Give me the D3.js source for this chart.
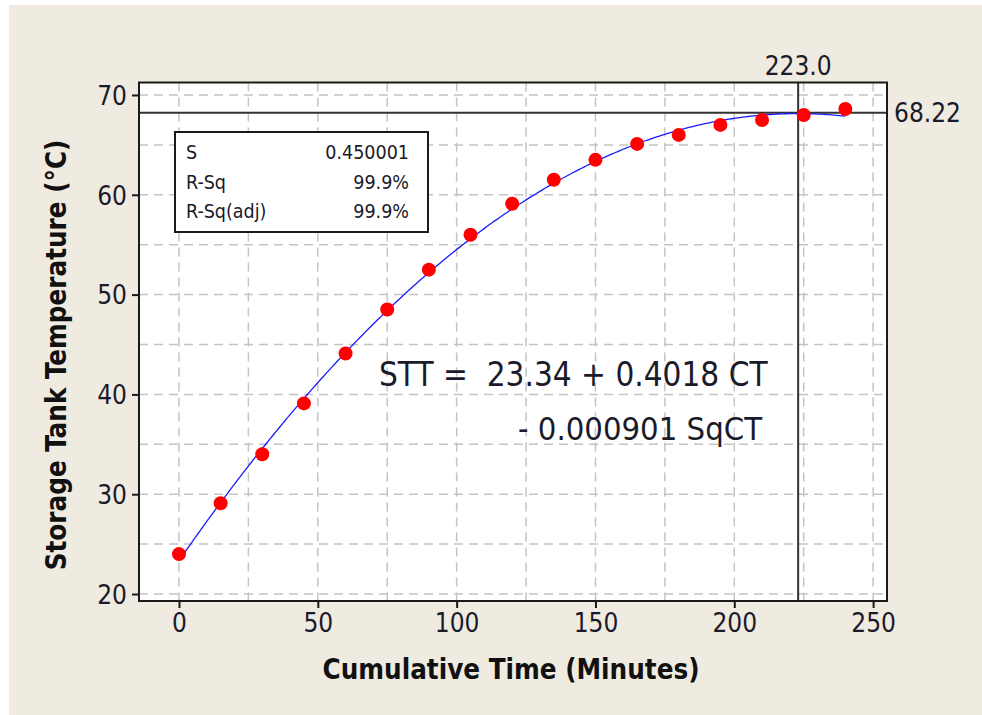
<!DOCTYPE html>
<html>
<head>
<meta charset="utf-8">
<script src="https://cdn.jsdelivr.net/npm/d3@7"></script>
<style>
  html, body { margin: 0; padding: 0; background: #ffffff; }
  svg { display: block; }
  .f { font-family: "DejaVu Sans Condensed", "Liberation Sans", Arial, sans-serif; }
</style>
</head>
<body>
<svg id="chart" width="982" height="715"></svg>
<script>
// ---- data ----
const cumulativeTime = [0, 15, 30, 45, 60, 75, 90, 105, 120, 135, 150, 165, 180, 195, 210, 225, 240];
const tankTemperature = [24.0, 29.1, 34.0, 39.1, 44.1, 48.5, 52.5, 56.0, 59.1, 61.5, 63.5, 65.1, 66.0, 67.0, 67.5, 68.0, 68.6];
const fitCoefficients = [23.34, 0.4018, -0.000901];   // STT = b0 + b1*CT + b2*CT^2
const xTicks = [0, 50, 100, 150, 200, 250];
const yTicks = [20, 30, 40, 50, 60, 70];
const xGrid = [0, 25, 50, 75, 100, 125, 150, 175, 200, 225, 250];
const yGrid = [20, 25, 30, 35, 40, 45, 50, 55, 60, 65, 70];
const refX = 223.0;
const refY = 68.22;
const statLabels = ["S", "R-Sq", "R-Sq(adj)"];
const statValues = ["0.450001", "99.9%", "99.9%"];
const equationLines = ["STT =  23.34 + 0.4018 CT", "- 0.000901 SqCT"];
const xTitle = "Cumulative Time (Minutes)";
const yTitle = "Storage Tank Temperature (\u00B0C)";

// ---- layout ----
const W = 982, H = 715;
const margin = { left: 139, top: 82.5, right: 95, bottom: 114 };
const svg = d3.select("#chart");

svg.append("rect").attr("x", 9).attr("y", 5).attr("width", W - 9).attr("height", H - 5).attr("fill", "#efebe1");

const x = d3.scaleLinear().domain([-14.4, 255]).range([margin.left, W - margin.right]);
const y = d3.scaleLinear().domain([19.3, 71.25]).range([H - margin.bottom, margin.top]);

const pw = W - margin.right - margin.left, ph = H - margin.bottom - margin.top;
svg.append("rect").attr("x", margin.left).attr("y", margin.top).attr("width", pw).attr("height", ph).attr("fill", "#ffffff");

// grid
const grid = svg.append("g").attr("stroke", "#c4c4c4").attr("stroke-width", 1.5).attr("stroke-dasharray", "9,6");
grid.selectAll(".gx").data(xGrid).join("line")
  .attr("x1", d => x(d)).attr("x2", d => x(d)).attr("y1", margin.top).attr("y2", H - margin.bottom);
grid.selectAll(".gy").data(yGrid).join("line")
  .attr("y1", d => y(d)).attr("y2", d => y(d)).attr("x1", margin.left).attr("x2", W - margin.right);

// reference lines
svg.append("line").attr("x1", x(refX)).attr("x2", x(refX)).attr("y1", margin.top).attr("y2", H - margin.bottom)
  .attr("stroke", "#333333").attr("stroke-width", 2);
svg.append("line").attr("y1", y(refY)).attr("y2", y(refY)).attr("x1", margin.left).attr("x2", W - margin.right)
  .attr("stroke", "#333333").attr("stroke-width", 2);

// fitted curve
const fitX = d3.range(0, 240.5, 1);
const fit = c => fitCoefficients[0] + fitCoefficients[1] * c + fitCoefficients[2] * c * c;
svg.append("path").datum(fitX)
  .attr("d", d3.line().x(d => x(d)).y(d => y(fit(d))))
  .attr("fill", "none").attr("stroke", "#1a1aff").attr("stroke-width", 1.3);

// points
svg.append("g").selectAll("circle").data(cumulativeTime).join("circle")
  .attr("cx", d => x(d)).attr("cy", (d, i) => y(tankTemperature[i])).attr("r", 7)
  .attr("fill", "#ff0000");

// frame
svg.append("rect").attr("x", margin.left).attr("y", margin.top).attr("width", pw).attr("height", ph)
  .attr("fill", "none").attr("stroke", "#1a1a1a").attr("stroke-width", 2);

// axes
const xAxis = svg.append("g").attr("transform", `translate(0,${H - margin.bottom})`)
  .call(d3.axisBottom(x).tickValues(xTicks).tickSize(7).tickPadding(6));
const yAxis = svg.append("g").attr("transform", `translate(${margin.left},0)`)
  .call(d3.axisLeft(y).tickValues(yTicks).tickSize(7).tickPadding(5));
[xAxis, yAxis].forEach(a => {
  a.select(".domain").remove();
  a.selectAll("line").attr("stroke", "#1a1a1a").attr("stroke-width", 2);
  a.selectAll("text").attr("class", "f").attr("font-size", 26).attr("fill", "#1a1a2a");
});
yAxis.selectAll("text").attr("dy", "0.36em");

// reference labels
svg.append("text").attr("class", "f").attr("x", x(refX)).attr("y", margin.top - 8)
  .attr("text-anchor", "middle").attr("font-size", 26).attr("fill", "#1a1a2a").text(refX.toFixed(1));
svg.append("text").attr("class", "f").attr("x", W - margin.right + 7).attr("y", y(refY))
  .attr("dy", "0.36em").attr("font-size", 26).attr("fill", "#1a1a2a").text(refY.toFixed(2));

// stats box
const box = svg.append("g");
box.append("rect").attr("x", 175).attr("y", 132).attr("width", 253).attr("height", 100)
  .attr("fill", "#ffffff").attr("stroke", "#1a1a1a").attr("stroke-width", 2);
statLabels.forEach((s, i) => {
  box.append("text").attr("class", "f").attr("x", 186).attr("y", 159 + i * 29.5)
    .attr("font-size", 19.5).attr("fill", "#1a1a2a").text(s);
  box.append("text").attr("class", "f").attr("x", 409).attr("y", 159 + i * 29.5)
    .attr("text-anchor", "end").attr("font-size", 19.5).attr("fill", "#1a1a2a").text(statValues[i]);
});

// equation
svg.append("text").attr("class", "f").attr("x", 379).attr("y", 386).attr("font-size", 33)
  .attr("fill", "#1a1a2a").attr("xml:space", "preserve").style("white-space", "pre").text(equationLines[0]);
svg.append("text").attr("class", "f").attr("x", 518).attr("y", 440).attr("font-size", 32.5)
  .attr("fill", "#1a1a2a").text(equationLines[1]);

// titles
svg.append("text").attr("class", "f").attr("x", 511).attr("y", 679).attr("text-anchor", "middle")
  .attr("font-size", 27.5).attr("font-weight", "bold").attr("fill", "#111").text(xTitle);
svg.append("text").attr("class", "f").attr("transform", "translate(66,355) rotate(-90)")
  .attr("text-anchor", "middle").attr("font-size", 27.5).attr("font-weight", "bold").attr("fill", "#111").text(yTitle);
</script>
</body>
</html>
